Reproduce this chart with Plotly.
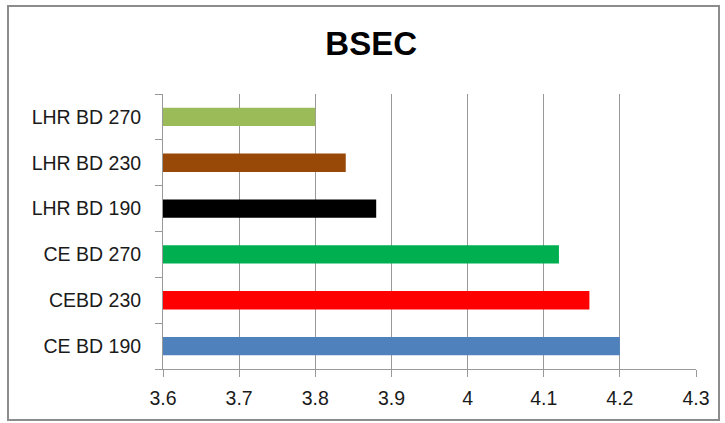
import plotly.graph_objects as go

categories = ["CE BD 190", "CEBD 230", "CE BD 270", "LHR BD 190", "LHR BD 230", "LHR BD 270"]
values = [4.20, 4.16, 4.12, 3.88, 3.84, 3.80]
colors = ["#4F81BD", "#FF0000", "#00B050", "#000000", "#984807", "#9BBB59"]
x_ticks = [3.6, 3.7, 3.8, 3.9, 4.0, 4.1, 4.2, 4.3]
x_tick_labels = ["3.6", "3.7", "3.8", "3.9", "4", "4.1", "4.2", "4.3"]

base = 3.6
fig = go.Figure(go.Bar(
    y=categories,
    x=[v - base for v in values],
    base=base,
    orientation="h",
    marker=dict(color=colors, line=dict(width=0)),
    width=0.4,
))

font_family = "Liberation Sans, Arial"
fig.update_layout(
    width=725, height=423,
    margin=dict(l=163, r=29, t=94, b=54),
    paper_bgcolor="white", plot_bgcolor="white",
    showlegend=False,
    title=dict(text="<b>BSEC</b>", x=0.512, xanchor="center", y=0.897, yanchor="middle",
               font=dict(family=font_family, size=33, color="black")),
    xaxis=dict(range=[3.6, 4.3], tickvals=x_ticks, ticktext=x_tick_labels,
               showgrid=True, gridcolor="#999999", gridwidth=1,
               showline=True, linecolor="#999999", linewidth=1,
               ticks="outside", ticklen=7, tickcolor="#999999",
               tickfont=dict(family=font_family, size=19.5, color="#1a1a1a"),
               ticklabelstandoff=5,
               zeroline=False),
    yaxis=dict(type="category", categoryorder="array", categoryarray=categories,
               showline=True, linecolor="#999999", linewidth=1,
               ticks="outside", ticklen=7, tickcolor="#999999", tickson="boundaries",
               tickfont=dict(family=font_family, size=19.5, color="#1a1a1a"),
               ticklabelstandoff=17, showgrid=False),
    shapes=[dict(type="rect", xref="paper", yref="paper",
                 x0=-163/533 + 8/533, x1=1 + 23/533, y0=-54/275 + 3/275, y1=1 + 88/275,
                 line=dict(color="#8C8C8C", width=2), layer="below")],
)

fig.write_html("out.html")
